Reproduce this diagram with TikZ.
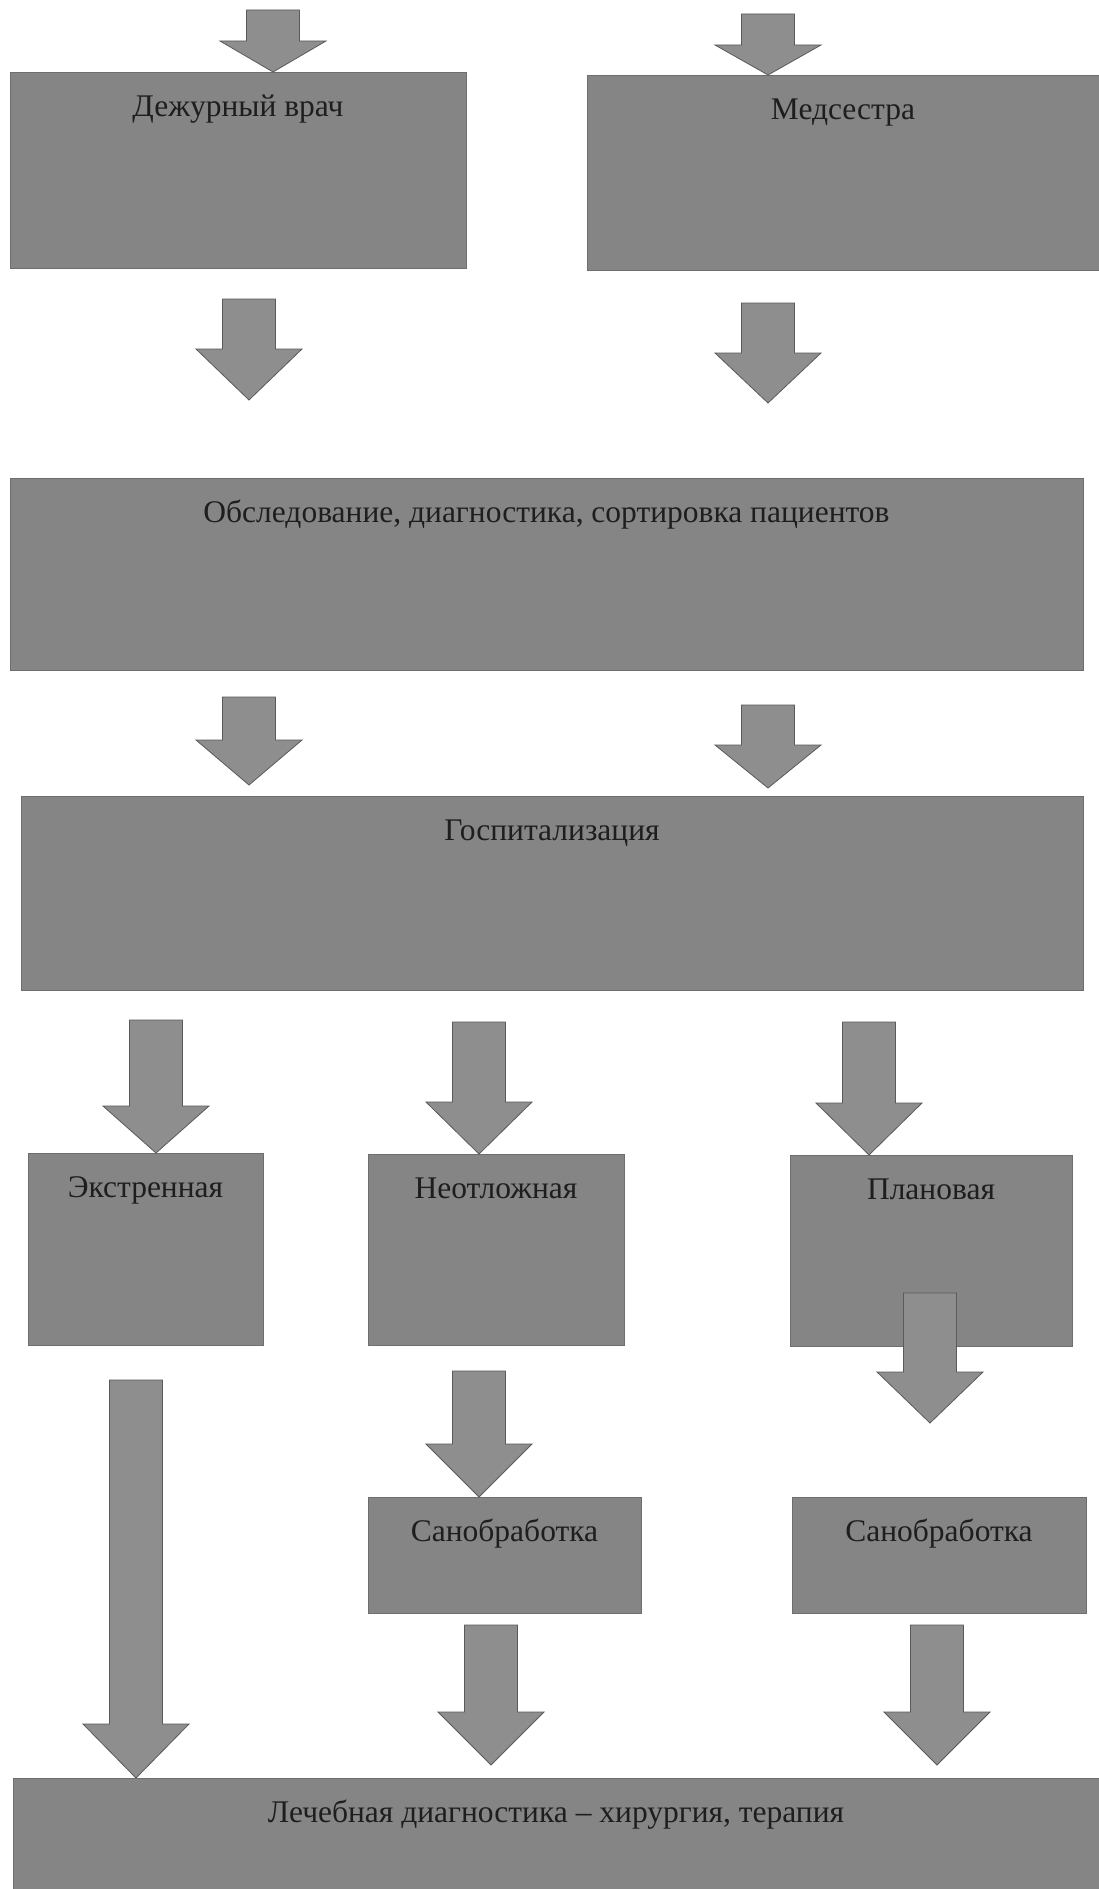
\documentclass[tikz,border=0pt]{standalone}
\usepackage{fontspec}
\setmainfont{Liberation Serif}
\usetikzlibrary{calc}
\definecolor{boxgray}{HTML}{858585}
\definecolor{boxedge}{HTML}{6E6E6E}
\definecolor{arrowgray}{HTML}{8E8E8E}
\definecolor{arrowedge}{HTML}{5A5A5A}
\definecolor{inkgray}{HTML}{1E1E1E}
\tikzset{
    stage/.style={fill=boxgray, draw=boxedge, line width=0.6pt, inner sep=0pt,
        anchor=north, text height=44pt, text=inkgray,
        font=\fontsize{31.5}{36}\selectfont},
    pointer/.style={fill=arrowgray, draw=arrowedge, line width=0.8pt, line join=miter}
}
% block arrow: [head length]{start}{tip}
\newcommand{\Pointer}[3][50]{
    \draw[pointer] let \p1=(#2), \p2=(#3) in
        (\x1-26.5pt,\y1) -- (\x1+26.5pt,\y1) -- (\x1+26.5pt,\y2+#1pt) -- (\x1+53pt,\y2+#1pt)
        -- (\x1,\y2) -- (\x1-53pt,\y2+#1pt) -- (\x1-26.5pt,\y2+#1pt) -- cycle;
}

\begin{document}
\begin{tikzpicture}[x=1pt, y=-1pt]
    \useasboundingbox (0,0) rectangle (1099,1889);
    \fill[white] (0,0) rectangle (1099,1889);

    \node[stage, minimum width=456pt, text depth=152pt] (duty) at (238,72) {Дежурный врач};
    \node[stage, minimum width=512pt, text depth=151pt] (nurse) at (843,75) {Медсестра};
    \node[stage, minimum width=1073pt, text depth=148pt] (exam) at (546.5,478) {Обследование, диагностика, сортировка пациентов};
    \node[stage, minimum width=1062pt, text depth=150pt] (hosp) at (552,796) {Госпитализация};

    \node[stage, minimum width=235pt, text depth=148pt] (urgent) at (145.5,1153) {Экстренная};
    \node[stage, minimum width=256pt, text depth=147pt] (emergent) at (496,1154) {Неотложная};
    \node[stage, minimum width=282pt, text depth=147pt] (planned) at (931,1155) {Плановая};

    \node[stage, minimum width=273pt, text depth=72pt] (sanA) at (504.5,1497) {Санобработка};
    \node[stage, minimum width=294pt, text depth=72pt] (sanB) at (939,1497) {Санобработка};

    \node[stage, minimum width=1086pt, text depth=67pt] (therapy) at (556,1778) {Лечебная диагностика – хирургия, терапия};

    % arrow starts and free tips
    \coordinate (a1) at (273,10);
    \coordinate (a2) at (768,14);
    \coordinate (b1) at (249,299);
    \coordinate (b1tip) at (249,400);
    \coordinate (b2) at (768,303);
    \coordinate (b2tip) at (768,403);
    \coordinate (c1) at (249,697);
    \coordinate (c1tip) at (249,785);
    \coordinate (c2) at (768,705);
    \coordinate (c2tip) at (768,788);
    \coordinate (d1) at (156,1020);
    \coordinate (d2) at (479,1022);
    \coordinate (d3) at (869,1022);
    \coordinate (e1) at (136,1380);
    \coordinate (e2) at (479,1371);
    \coordinate (e3) at (930,1293);
    \coordinate (e3tip) at (930,1423);
    \coordinate (f2) at (491,1625);
    \coordinate (f2tip) at (491,1765);
    \coordinate (f3) at (937,1625);
    \coordinate (f3tip) at (937,1765);

    \Pointer[31]{a1}{a1 |- duty.north}
    \Pointer[30]{a2}{a2 |- nurse.north}
    \Pointer[51]{b1}{b1tip}
    \Pointer[50]{b2}{b2tip}
    \Pointer[45]{c1}{c1tip}
    \Pointer[43]{c2}{c2tip}
    \Pointer[47]{d1}{d1 |- urgent.north}
    \Pointer[52]{d2}{d2 |- emergent.north}
    \Pointer[52]{d3}{d3 |- planned.north}
    \Pointer[54]{e1}{e1 |- therapy.north}
    \Pointer[53]{e2}{e2 |- sanA.north}
    \Pointer[51]{e3}{e3tip}
    \Pointer[53]{f2}{f2tip}
    \Pointer[53]{f3}{f3tip}
\end{tikzpicture}
\end{document}
